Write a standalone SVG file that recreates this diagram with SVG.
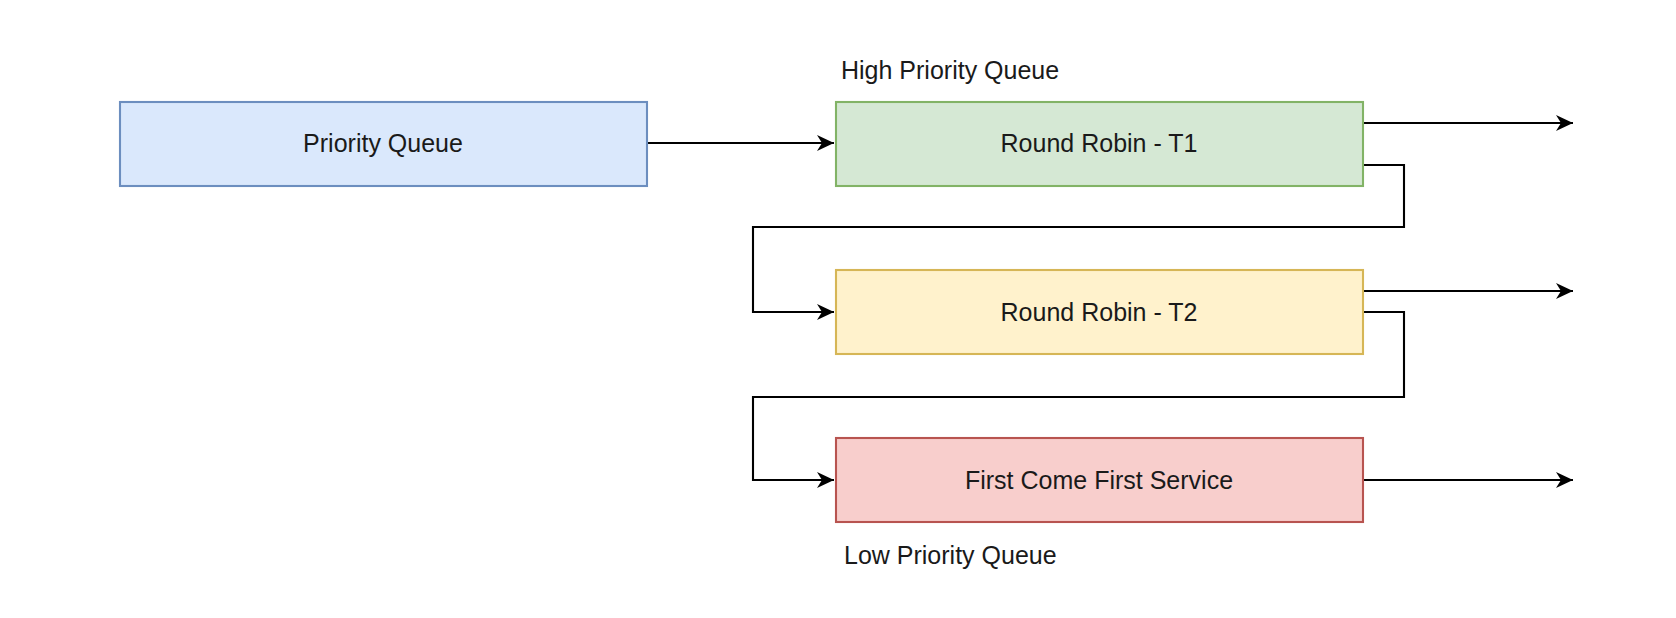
<svg xmlns="http://www.w3.org/2000/svg" width="1676" height="618" viewBox="0 0 1676 618">
<defs>
<style>
.lbl{font-family:"Liberation Sans",Arial,Helvetica,sans-serif;font-size:25px;fill:#1a1a1a}
.mid{text-anchor:middle}
.con{fill:none;stroke:#000;stroke-width:2.1}
.node{stroke-width:2.1}
</style>
<marker id="arr" markerUnits="userSpaceOnUse" markerWidth="18" markerHeight="16" refX="17" refY="8" orient="auto" viewBox="0 0 18 16">
<path d="M0,0 L17,8 L0,16 L5,8 Z" fill="#000"/>
</marker>
</defs>
<rect width="1676" height="618" fill="#fff"/>
<g id="connectors">
<path class="con" d="M647,143 H834" marker-end="url(#arr)"/>
<path class="con" d="M1363,123 H1573" marker-end="url(#arr)"/>
<path class="con" d="M1363,165 H1404 V227 H753 V312 H834" marker-end="url(#arr)"/>
<path class="con" d="M1363,291 H1573" marker-end="url(#arr)"/>
<path class="con" d="M1363,312 H1404 V397 H753 V480 H834" marker-end="url(#arr)"/>
<path class="con" d="M1363,480 H1573" marker-end="url(#arr)"/>
</g>
<g id="priority-queue">
<rect class="node" x="120" y="102" width="527" height="84" fill="#dae8fc" stroke="#6c8ebf"/>
<text class="lbl mid" x="383" y="152">Priority Queue</text>
</g>
<g id="round-robin-t1">
<rect class="node" x="836" y="102" width="527" height="84" fill="#d5e8d4" stroke="#82b366"/>
<text class="lbl mid" x="1099" y="152">Round Robin - T1</text>
</g>
<g id="round-robin-t2">
<rect class="node" x="836" y="270" width="527" height="84" fill="#fff2cc" stroke="#d6b656"/>
<text class="lbl mid" x="1099" y="321">Round Robin - T2</text>
</g>
<g id="fcfs">
<rect class="node" x="836" y="438" width="527" height="84" fill="#f8cecc" stroke="#b85450"/>
<text class="lbl mid" x="1099" y="489">First Come First Service</text>
</g>
<g id="high-label">
<text class="lbl" x="841" y="79">High Priority Queue</text>
</g>
<g id="low-label">
<text class="lbl" x="844" y="564">Low Priority Queue</text>
</g>
</svg>
